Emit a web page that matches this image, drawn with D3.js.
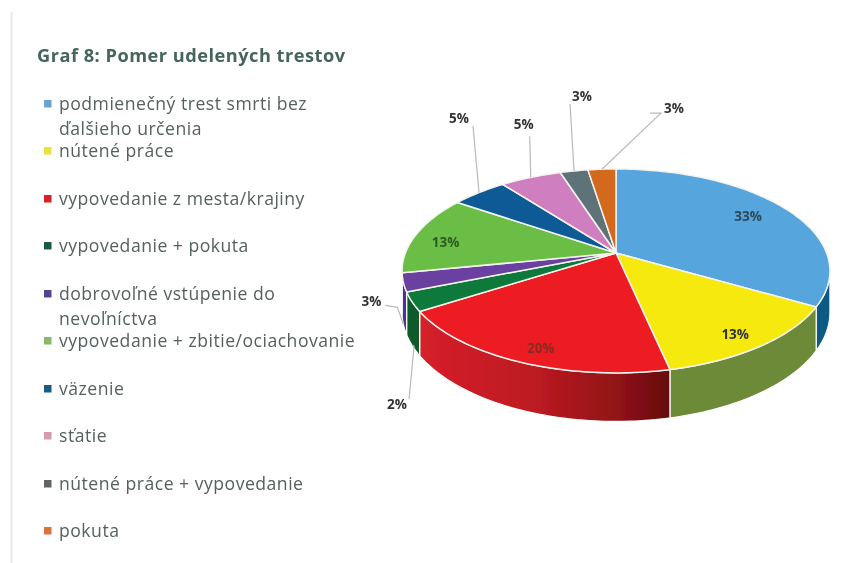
<!DOCTYPE html>
<html><head><meta charset="utf-8">
<script src="https://cdn.jsdelivr.net/npm/d3@7/dist/d3.min.js"></script>
<style>html,body{margin:0;padding:0;background:#fff}svg{display:block}</style></head>
<body><svg id="c" width="853" height="563"></svg>
<script>
const title = "Graf 8: Pomer udelených trestov";
const categories = ["podmienečný trest smrti bez|ďalšieho určenia","nútené práce","vypovedanie z mesta/krajiny","vypovedanie + pokuta","dobrovoľné vstúpenie do|nevoľníctva","vypovedanie + zbitie/ociachovanie","väzenie","sťatie","nútené práce + vypovedanie","pokuta"];
const values = [33.3,13.3,19.4,3,2.9,12.6,5,5.5,2.5,2.5];
const percentLabels = ["33%","13%","20%","2%","3%","13%","5%","5%","3%","3%"];
const topColors = ["#56a5dc","#f5e911","#ec1c24","#0a7a3b","#6b3fa0","#6abd45","#0a5a96","#cf7fc0","#5d7279","#d2691e"];
const sideColors = ["#0f5a85","#6d8a38","url(#redSide)","#0c5a2c","#4a3590","#4f8a30","#0a4a76","#a06090","#46565c","#a85014"];
const legendColors = ["#6ba3cf","#e8e23a","#d8242c","#1f5a44","#54478f","#86b86e","#1d5a86","#d898b0","#606468","#d8743a"];
const labelColors = ["#2d4a5a","#333","#8a2a20","#333","#333","#2f5a25","#333","#333","#333","#333"];

// layout
const legendY = [104,151,199,246,294,341,389,436,484,531];
const labelR = [.78,.85,.87,1,1,.84,1,1,1,1];
const labelOff = [[-1,-1],[-1,4],[7,3],[-15,59],[-32,-23],[-2,5],[-20,-74],[-7,-53],[8,-75],[72,-61]];
const leaderEnd = {3:[[12,-5],[17,-58]],4:[[14,4],[26,6]],6:[[14,7]],7:[[6,12]],8:[[-12,8]],9:[[-24,5],[-13,5]]};
const onSide = {3:1,4:1};

const svg = d3.select("#c");
const defs = svg.append("defs");
const g = defs.append("linearGradient").attr("id","redSide");
[[0,"#d6202a"],[.45,"#bd1b22"],[.8,"#8f1216"],[1,"#640a0e"]].forEach(s=>g.append("stop").attr("offset",s[0]).attr("stop-color",s[1]));
const f = defs.append("filter").attr("id","soft").attr("x","-5%").attr("y","-5%").attr("width","110%").attr("height","110%");
f.append("feGaussianBlur").attr("stdDeviation",.7);
const f2 = defs.append("filter").attr("id","soft2").attr("x","-5%").attr("y","-5%").attr("width","110%").attr("height","110%");
f2.append("feGaussianBlur").attr("stdDeviation",.55);

svg.append("line").attr("x1",11.5).attr("x2",11.5).attr("y1",12).attr("y2",563).attr("stroke","#e8e8e8").attr("stroke-width",2);

const txt = svg.append("g").attr("filter","url(#soft)").attr("font-family","'Open Sans',sans-serif");
txt.append("text").attr("x",37).attr("y",62).attr("font-size",18.2).attr("letter-spacing",.5).attr("font-weight",700).attr("fill","#47665a").text(title);

const yStep = 25;
const items = txt.selectAll("g.item").data(categories).join("g").attr("class","item").attr("transform",(d,i)=>`translate(0,${legendY[i]})`);
items.append("rect").attr("x",44).attr("y",-4).attr("width",7.5).attr("height",7.5).attr("fill",(d,i)=>legendColors[i]);
items.each(function(d){
  d3.select(this).selectAll("text").data(d.split("|")).join("text")
    .attr("x",59).attr("y",(t,k)=>5.5+k*yStep).attr("font-size",17.6).attr("letter-spacing",.5).attr("fill","#56605f").text(t=>t);
});

// perspective projection of the pie disc
const cx=616, cy=253, a=210.6, b=98.8, k=.176, depth=40;
const pie = d3.pie().sort(null).value(d=>d);
const arcs = pie(values);
function proj(th,r,z){
  const u=r*Math.sin(th), v=-r*Math.cos(th), w=1-k*v;
  return [cx+a*u/w, cy+b*v/w+(z?depth/w:0)];
}
const line = d3.line();
const pts=(s,e,r,z)=>{const n=Math.max(2,Math.ceil((e-s)/.02));return d3.range(n+1).map(i=>proj(s+(e-s)*i/n,r,z));};
const sideMin=100*Math.PI/180, sideMax=260*Math.PI/180;

const pieG = svg.append("g").attr("filter","url(#soft2)");
arcs.forEach((d,i)=>{
  const s=Math.max(d.startAngle,sideMin), e=Math.min(d.endAngle,sideMax);
  if(e<=s) return;
  const poly=pts(s,e,1,false).concat(pts(s,e,1,true).reverse());
  pieG.append("path").attr("d",line(poly)+"Z").attr("fill",sideColors[i]).attr("stroke","#fff").attr("stroke-width",1.2).attr("stroke-linejoin","round");
});
arcs.forEach((d,i)=>{
  const poly=[proj(0,0)].concat(pts(d.startAngle,d.endAngle,1,false));
  pieG.append("path").attr("d",line(poly)+"Z").attr("fill",topColors[i]).attr("stroke","#f4f4ee").attr("stroke-width",1.5).attr("stroke-linejoin","round");
});

// leaders and labels
const lab = svg.append("g").attr("filter","url(#soft2)").attr("font-family","'Open Sans',sans-serif");
arcs.forEach((d,i)=>{
  const mid=(d.startAngle+d.endAngle)/2;
  const anc=proj(mid,labelR[i],onSide[i]);
  const p=[anc[0]+labelOff[i][0],anc[1]+labelOff[i][1]];
  if(leaderEnd[i]){
    const path=[anc].concat(leaderEnd[i].slice().reverse().map(o=>[p[0]+o[0],p[1]+o[1]]));
    lab.append("path").attr("d",line(path)).attr("fill","none").attr("stroke","#b9b9b9").attr("stroke-width",1.2);
  }
  lab.append("text").attr("x",p[0]).attr("y",p[1]).attr("dy",".35em").attr("text-anchor","middle")
    .attr("font-size",13.5).attr("font-weight",700).attr("fill",labelColors[i]).text(percentLabels[i]);
});
</script></body></html>
